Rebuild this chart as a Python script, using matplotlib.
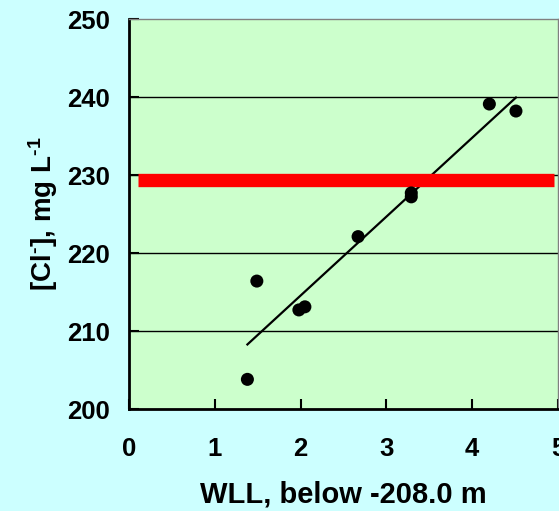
import numpy as np
import matplotlib
matplotlib.use("Agg")
import matplotlib.pyplot as plt

# Data
wll = [1.38, 1.49, 1.98, 2.05, 2.67, 3.29, 3.29, 4.20, 4.51]
chloride = [203.8, 216.4, 212.7, 213.1, 222.1, 227.7, 227.2, 239.1, 238.2]
limit_value = 229.4
limit_x = [0.1, 4.95]
x_ticks = [0, 1, 2, 3, 4, 5]
y_ticks = [200, 210, 220, 230, 240, 250]

plt.rcParams['font.family'] = ['Liberation Sans', 'DejaVu Sans']
plt.rcParams['font.weight'] = 'bold'
plt.rcParams['mathtext.fontset'] = 'custom'
plt.rcParams['mathtext.rm'] = 'Liberation Sans:bold'
plt.rcParams['mathtext.bf'] = 'Liberation Sans:bold'
plt.rcParams['mathtext.default'] = 'bf'

fig = plt.figure(figsize=(5.59, 5.11), dpi=100, facecolor='#CCFFFF')
ax = fig.add_axes([129/559, (511-409)/511, (558-129)/559, (409-19)/511])
ax.set_facecolor('#CCFFCC')

ax.set_xlim(0, 5)
ax.set_ylim(200, 250)
ax.set_xticks(x_ticks)
ax.set_yticks(y_ticks)

for yv in y_ticks[1:-1]:
    ax.axhline(yv, color='black', lw=1.0, zorder=1)

# regression line
coef = np.polyfit(wll, chloride, 1)
xs = np.array([min(wll), max(wll)])
ax.plot(xs, np.polyval(coef, xs), color='black', lw=1.6, zorder=2)

# limit bar
ax.plot(limit_x, [limit_value, limit_value], color='#FF0000', lw=9.6,
        solid_capstyle='butt', zorder=3)

ax.scatter(wll, chloride, s=88, color='black', zorder=4, edgecolors='none')

for side in ['top', 'right']:
    ax.spines[side].set_color('#808080')
    ax.spines[side].set_linewidth(1.0)
for side in ['left', 'bottom']:
    ax.spines[side].set_color('black')
    ax.spines[side].set_linewidth(2.0)

ax.tick_params(axis='both', direction='in', length=7, width=1.5,
               labelsize=18.5)
ax.tick_params(axis='y', pad=14)
ax.tick_params(axis='x', pad=20)
for lab in ax.get_xticklabels() + ax.get_yticklabels():
    lab.set_fontweight('bold')

ax.set_xlabel('WLL, below -208.0 m', fontsize=21, fontweight='bold', labelpad=14)
ax.set_ylabel(r'[Cl$^{\text{-}}$], mg L$^{\text{-1}}$', fontsize=20,
              fontweight='bold', labelpad=5)

fig.savefig('out.png', dpi=100, facecolor=fig.get_facecolor())
